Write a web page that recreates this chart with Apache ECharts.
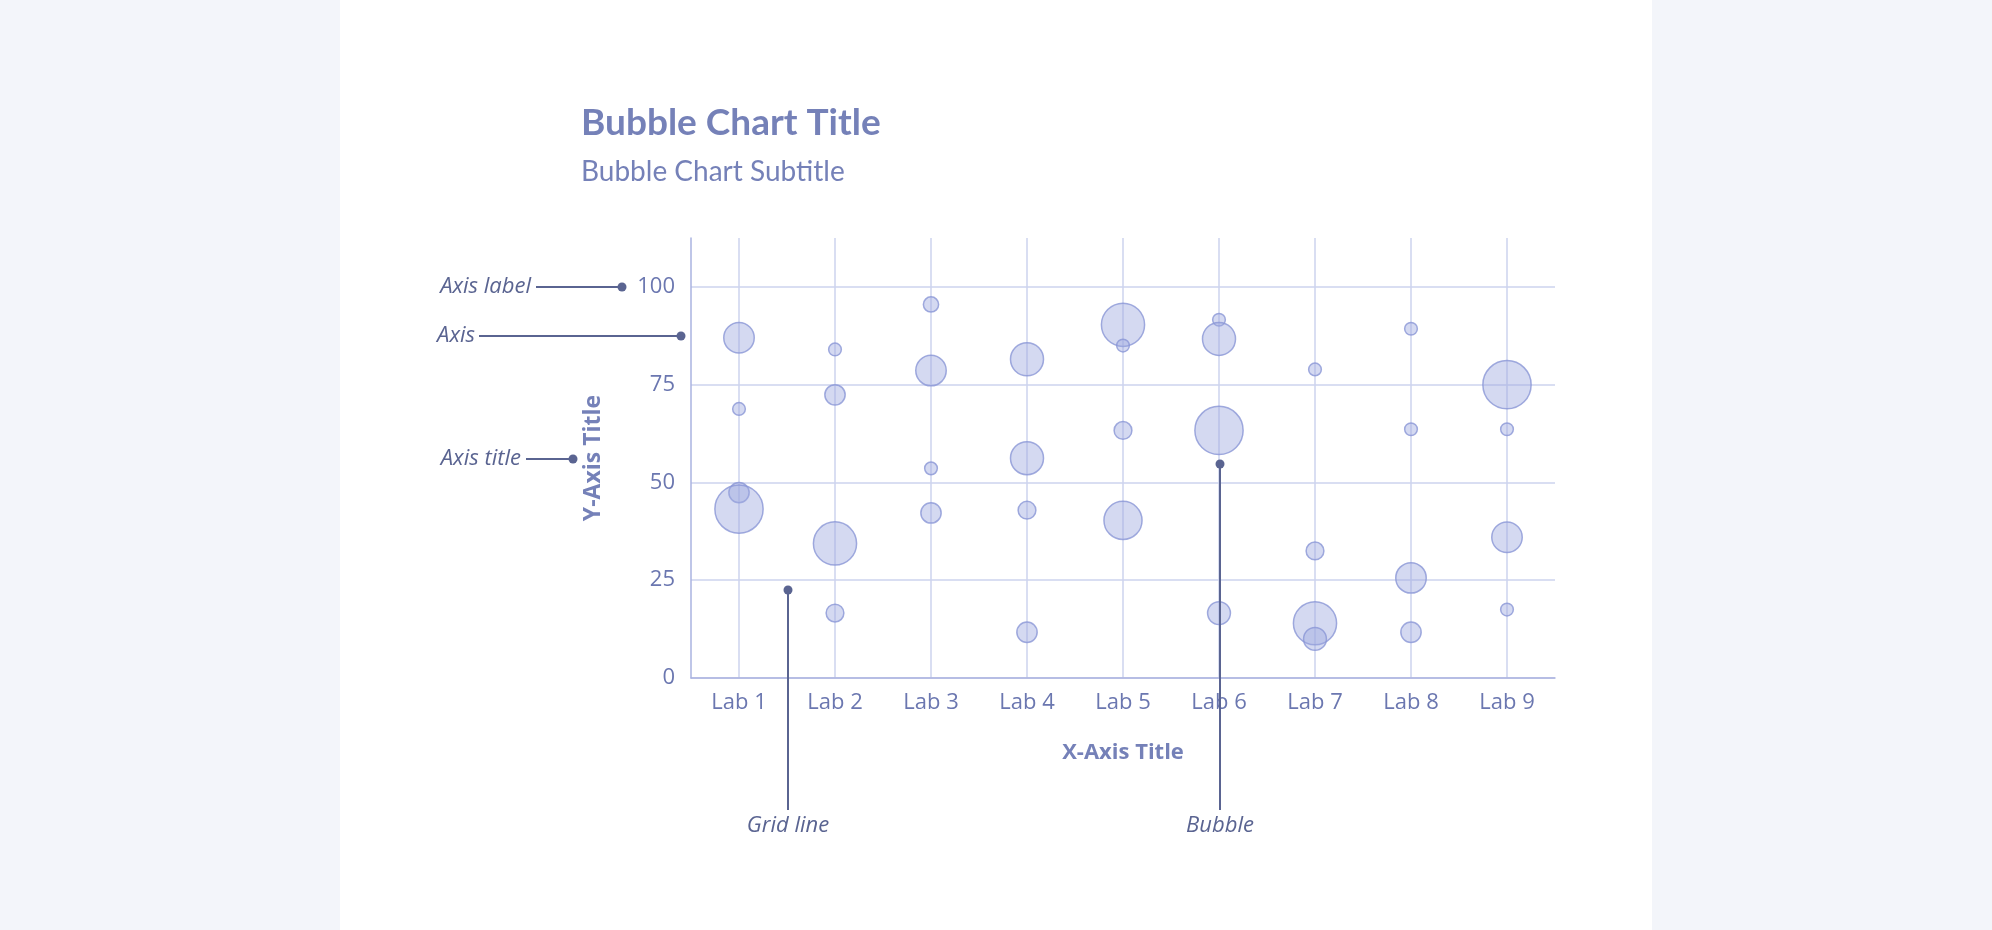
<!DOCTYPE html><html><head><meta charset="utf-8">
<script src="https://cdn.jsdelivr.net/npm/echarts@6/dist/echarts.min.js"></script>
<style>html,body{margin:0;background:#f3f5fa}#c{width:1992px;height:930px}</style></head><body><div id="c"></div>
<script>
const categories=['Lab 1','Lab 2','Lab 3','Lab 4','Lab 5','Lab 6','Lab 7','Lab 8','Lab 9'];
const yTicks=[0,25,50,75,100];
// [category, value, size]
const bubbles=[
['Lab 1',87,12],['Lab 1',68.8,5],['Lab 1',47.4,8],['Lab 1',43.2,19],
['Lab 2',84,5],['Lab 2',72.4,8],['Lab 2',34.4,17],['Lab 2',16.6,7],
['Lab 3',95.5,6],['Lab 3',78.6,12],['Lab 3',53.6,5],['Lab 3',42.2,8],
['Lab 4',81.5,13],['Lab 4',56.2,13],['Lab 4',42.9,7],['Lab 4',11.7,8],
['Lab 5',90.3,17],['Lab 5',85,5],['Lab 5',63.3,7],['Lab 5',40.3,15],
['Lab 6',91.6,5],['Lab 6',86.7,13],['Lab 6',63.3,19],['Lab 6',16.6,9],
['Lab 7',78.9,5],['Lab 7',32.5,7],['Lab 7',14,17],['Lab 7',10,9],
['Lab 8',89.3,5],['Lab 8',63.6,5],['Lab 8',25.6,12],['Lab 8',11.7,8],
['Lab 9',75,19],['Lab 9',63.6,5],['Lab 9',36,12],['Lab 9',17.5,5]
];
const ann='#5a6491';
const chart=echarts.init(document.getElementById('c'));
function dot(x,y){return {type:'circle',shape:{cx:x,cy:y,r:4.5},style:{fill:ann},z:10};}
function seg(x1,y1,x2,y2){return {type:'line',shape:{x1,y1,x2,y2},style:{stroke:ann,lineWidth:2},z:10};}
function txt(t,x,y,align){return {type:'text',x,y,style:{text:t,fill:ann,font:'italic 22px "Open Sans"',align,verticalAlign:'middle'},z:10};}
chart.setOption({
 backgroundColor:'#f3f5fa',
 title:{text:'Bubble Chart Title',subtext:'Bubble Chart Subtitle',left:576,top:100,itemGap:16,
  textStyle:{color:'#7581b8',fontSize:37,fontWeight:'bold',fontFamily:'Lato'},
  subtextStyle:{color:'#7581b8',fontSize:28,fontFamily:'Lato'}},
 grid:{left:691,right:437,top:238,bottom:252},
 xAxis:{type:'category',data:categories,boundaryGap:true,
  name:'X-Axis Title',nameLocation:'middle',nameGap:64,
  nameTextStyle:{color:'#7581b8',fontSize:22,fontWeight:'bold',fontFamily:'Open Sans'},
  axisLine:{lineStyle:{color:'#aab3e0',width:1.5}},axisTick:{show:false},
  axisLabel:{color:'#6b77b0',fontSize:22,fontFamily:'Open Sans',margin:14},
  splitLine:{show:true,alignWithLabel:true,lineStyle:{color:'#cdd3ee',width:1.5}}},
 yAxis:{type:'value',min:0,max:112.5,interval:25,
  name:'Y-Axis Title',nameLocation:'middle',nameGap:86,nameRotate:90,
  nameTextStyle:{color:'#7581b8',fontSize:23,fontWeight:'bold',fontFamily:'Open Sans'},
  axisLine:{show:true,lineStyle:{color:'#aab3e0',width:1.5}},axisTick:{show:false},
  axisLabel:{color:'#6b77b0',fontSize:22,fontFamily:'Open Sans',margin:16,showMaxLabel:false,
   formatter:v=>yTicks.includes(v)?String(v):''},
  splitLine:{show:true,showMaxLine:false,lineStyle:{color:'#cdd3ee',width:1.5}}},
 series:[{type:'scatter',data:bubbles,symbolSize:d=>d[2]*2.54,
  itemStyle:{color:'rgba(158,168,224,0.55)',borderColor:'#8a96d6',borderWidth:1.5}}],
 graphic:[
  {type:'rect',shape:{x:340,y:0,width:1312,height:930},style:{fill:'#fff'},z:-10},
  txt('Axis label',531,287,'right'),seg(536,287,622,287),dot(622,287),
  txt('Axis',475,336,'right'),seg(479,336,681,336),dot(681,336),
  txt('Axis title',521,459,'right'),seg(526,459,573,459),dot(573,459),
  seg(788,590,788,810),dot(788,590),txt('Grid line',788,826,'center'),
  seg(1220,464,1220,810),dot(1220,464),txt('Bubble',1220,826,'center')
 ]
});
</script></body></html>
